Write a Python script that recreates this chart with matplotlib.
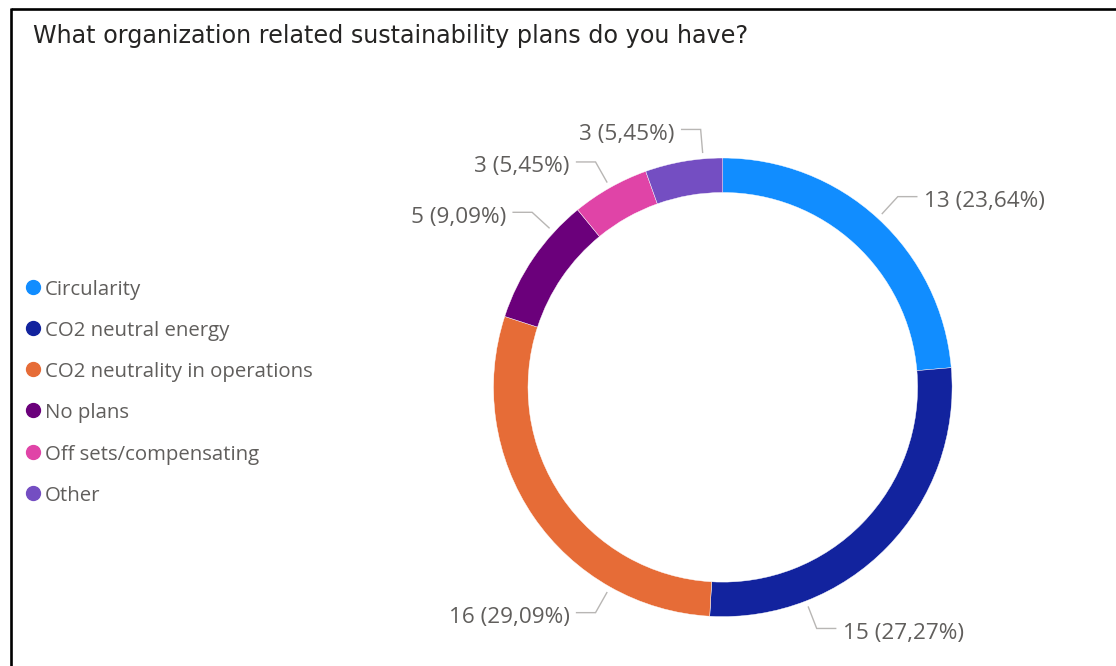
import matplotlib
matplotlib.use("Agg")
import numpy as np
import matplotlib.pyplot as plt

# ---- data -------------------------------------------------------------
categories = [
    "Circularity",
    "CO2 neutral energy",
    "CO2 neutrality in operations",
    "No plans",
    "Off sets/compensating",
    "Other",
]
counts = [13, 15, 16, 5, 3, 3]
colors = ["#118DFF", "#12239E", "#E66C37", "#6B007B", "#E044A7", "#744EC2"]
title = "What organization related sustainability plans do you have?"

# ---- canvas (1 data unit = 1 pixel, y measured from the top) ------------
W, H = 1116, 666
fig = plt.figure(figsize=(W / 100, H / 100), dpi=100)
ax = fig.add_axes([0, 0, 1, 1])


def Y(y):
    return H - y


LABEL_FONT = "Open Sans"
TEXT_GREY = "#605E5C"
LEADER_GREY = "#B8B6B4"

cx, cy = 722.8, Y(387.3)
R = 229.3
ring = 34.5

ax.pie(
    counts,
    colors=colors,
    startangle=90,
    counterclock=False,
    radius=R,
    center=(cx, cy),
    wedgeprops=dict(width=ring, edgecolor="white", linewidth=0.3),
)
ax.set_xlim(0, W)
ax.set_ylim(0, H)
ax.axis("off")

# ---- data labels with leader lines ------------------------------------
total = sum(counts)
anchor_frac = [0.5, 0.75, 0.25, 0.75, 0.5, 0.75]
start = 90.0
for v, frac in zip(counts, anchor_frac):
    sweep = 360.0 * v / total
    a = np.radians(start - frac * sweep)
    start -= sweep
    r1, r2 = R + 6.5, R + 29.5
    x1, y1 = cx + r1 * np.cos(a), cy + r1 * np.sin(a)
    x2, y2 = cx + r2 * np.cos(a), cy + r2 * np.sin(a)
    side = 1 if np.cos(a) > 0.02 else -1
    x3 = x2 + side * 19
    ax.plot([x1, x2, x3], [y1, y2, y2], color=LEADER_GREY, lw=1.0,
            solid_joinstyle="miter")
    txt = f"{v} ({v / total * 100:.2f}%)".replace(".", ",")
    ax.text(x3 + side * 7, y2 - 10.5, txt, ha="left" if side > 0 else "right",
            va="baseline", fontsize=16.2, family=LABEL_FONT, color=TEXT_GREY)

# ---- legend -----------------------------------------------------------
for i, (name, c) in enumerate(zip(categories, colors)):
    ly = Y(286.8 + i * 41.2)
    ax.plot([32.5], [ly], marker="o", ms=10, color=c, mec=c, ls="none")
    ax.text(45, ly - 8, name, ha="left", va="baseline", fontsize=14.7,
            family=LABEL_FONT, color=TEXT_GREY)

# ---- title ------------------------------------------------------------
ax.text(33, Y(43), title, ha="left", va="baseline", fontsize=17.2,
        family="DejaVu Sans", color="#252423")

# ---- frame (top and left edges) -----------------------------------------
ax.plot([10.5, W + 5], [Y(9.2), Y(9.2)], color="black", lw=1.9,
        solid_capstyle="butt")
ax.plot([11.2, 11.2], [Y(8.2), -5], color="black", lw=1.9,
        solid_capstyle="butt")

fig.savefig("out.png", dpi=100, facecolor="white")
